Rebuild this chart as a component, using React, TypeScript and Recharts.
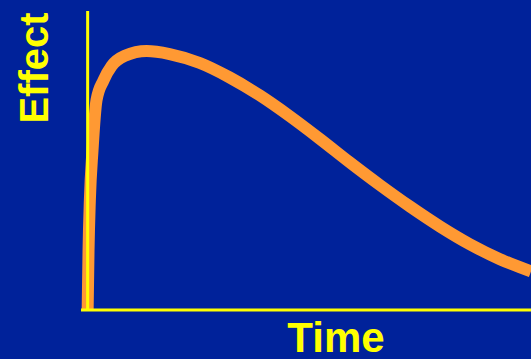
import { LineChart, Line, XAxis, YAxis, ReferenceLine } from 'recharts'

// time / effect
const time = [0, 0.2, 0.5, 1.1, 2, 3.6, 5.4, 8.4, 13.3, 18.5, 25.3, 32, 38.8, 45.6, 52.4, 59.1, 65.9, 72.7, 79.5, 86.2, 93, 100]
const effect = [0, 20, 36.8, 53.5, 70.2, 76.9, 81.6, 85, 86.6, 85.6, 82.6, 77.8, 71.8, 64.8, 57.2, 49.4, 41.8, 34.6, 27.9, 22.0, 17.0, 12.9]

const xLabel = 'Time'
const yLabel = 'Effect'

const data = time.map((t, i) => ({ t, effect: effect[i] }))

const BG = '#00229A'
const YELLOW = '#FFFF00'
const ORANGE = '#FF9933'

export default function App() {
  return (
    <div style={{ position: 'fixed', left: 0, top: 0, width: 531, height: 359, background: BG, overflow: 'hidden' }}>
      <LineChart width={531} height={359} data={data} margin={{ top: 11, right: 0, left: 81, bottom: 49 }}>
        <XAxis dataKey='t' type='number' domain={[-1.5, 100]} hide />
        <YAxis type='number' domain={[0, 100]} hide />
        <Line
          type='monotone'
          dataKey='effect'
          stroke={ORANGE}
          strokeWidth={12}
          dot={false}
          activeDot={false}
          isAnimationActive={false}
        />
        <ReferenceLine x={0} stroke={YELLOW} strokeWidth={3} />
        <ReferenceLine y={0} stroke={YELLOW} strokeWidth={3} />
      </LineChart>
      <svg width={531} height={359} style={{ position: 'absolute', left: 0, top: 0, pointerEvents: 'none' }}>
        <text x={336} y={352} textAnchor='middle' fill={YELLOW} fontFamily='Liberation Sans, Arial, sans-serif' fontWeight='bold' fontSize={42}>
          {xLabel}
        </text>
        <text transform='translate(48,68) rotate(-90)' textAnchor='middle' fill={YELLOW} fontFamily='Liberation Sans, Arial, sans-serif' fontWeight='bold' fontSize={40}>
          {yLabel}
        </text>
      </svg>
    </div>
  )
}
